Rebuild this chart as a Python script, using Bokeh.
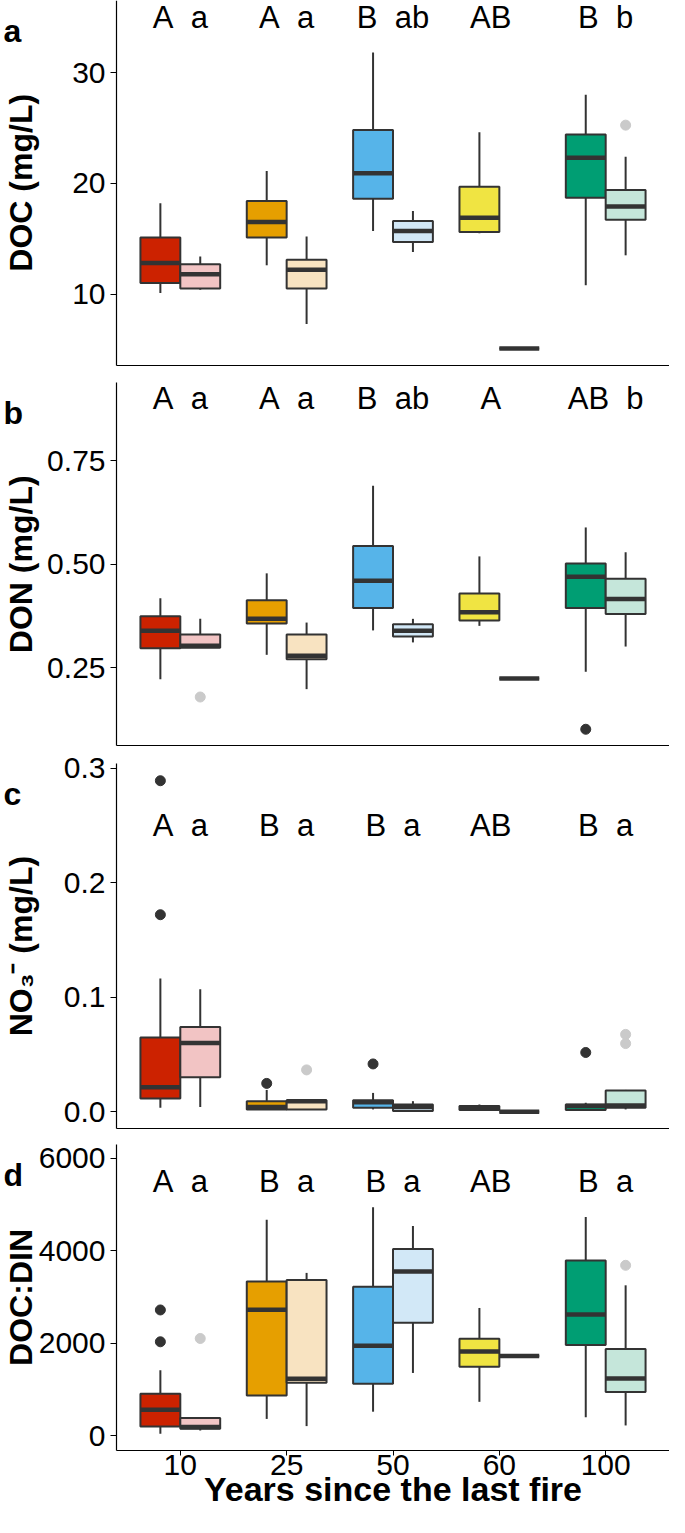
import math
from bokeh.plotting import figure
from bokeh.models import Range1d, FixedTicker, Label, ColumnDataSource, NumeralTickFormatter
from bokeh.layouts import column
from bokeh.embed import file_html
from bokeh.resources import INLINE
from bokeh.core.properties import value

# ---------------- data ----------------
years = ["10", "25", "50", "60", "100"]
dark_colors = ["#CC2200", "#E69F00", "#56B4E9", "#F0E442", "#009E73"]
light_colors = ["#F2C4C4", "#F8E3C1", "#D2E8F7", "#FAF6C6", "#C5E6DA"]

# Panel a: DOC (mg/L)
doc_dark_lower = [10.1, 12.6, 15.7, 15.5, 10.8]
doc_dark_q1 = [11.0, 15.1, 18.6, 15.6, 18.7]
doc_dark_med = [12.8, 16.5, 20.9, 16.9, 22.3]
doc_dark_q3 = [15.1, 18.4, 24.8, 19.7, 24.4]
doc_dark_upper = [18.2, 21.1, 31.8, 24.6, 28.0]
doc_light_lower = [10.4, 7.3, 13.8, 5.1, 13.5]
doc_light_q1 = [10.5, 10.5, 14.7, 5.1, 16.7]
doc_light_med = [11.8, 12.2, 15.7, 5.1, 17.9]
doc_light_q3 = [12.7, 13.1, 16.6, 5.1, 19.4]
doc_light_upper = [13.4, 15.2, 17.5, 5.1, 22.4]
doc_out_dark_year = []
doc_out_dark_val = []
doc_out_light_year = [4]
doc_out_light_val = [25.25]
doc_upper_letters = ["A", "A", "B", "AB", "B"]
doc_lower_letters = ["a", "a", "ab", "", "b"]

# Panel b: DON (mg/L)
don_dark_lower = [0.222, 0.281, 0.340, 0.351, 0.240]
don_dark_q1 = [0.297, 0.357, 0.394, 0.364, 0.394]
don_dark_med = [0.339, 0.368, 0.460, 0.384, 0.470]
don_dark_q3 = [0.374, 0.413, 0.544, 0.429, 0.502]
don_dark_upper = [0.418, 0.478, 0.690, 0.519, 0.589]
don_light_lower = [0.298, 0.198, 0.311, 0.224, 0.301]
don_light_q1 = [0.298, 0.270, 0.325, 0.224, 0.380]
don_light_med = [0.303, 0.279, 0.339, 0.224, 0.416]
don_light_q3 = [0.330, 0.330, 0.355, 0.224, 0.465]
don_light_upper = [0.368, 0.359, 0.368, 0.224, 0.529]
don_out_dark_year = [4]
don_out_dark_val = [0.101]
don_out_light_year = [0]
don_out_light_val = [0.179]
don_upper_letters = ["A", "A", "B", "A", "AB"]
don_lower_letters = ["a", "a", "ab", "", "b"]

# Panel c: NO3- (mg/L)
no3_dark_lower = [0.0034, 0.0020, 0.0020, 0.0014, 0.0006]
no3_dark_q1 = [0.0115, 0.0020, 0.0034, 0.0014, 0.0014]
no3_dark_med = [0.0213, 0.0040, 0.0083, 0.0034, 0.0049]
no3_dark_q3 = [0.0647, 0.0092, 0.0100, 0.0049, 0.0063]
no3_dark_upper = [0.1164, 0.0190, 0.0164, 0.0063, 0.0078]
no3_light_lower = [0.0040, 0.0020, 0.0006, 0.0000, 0.0020]
no3_light_q1 = [0.0300, 0.0020, 0.0006, 0.0000, 0.0034]
no3_light_med = [0.0600, 0.0092, 0.0040, 0.0000, 0.0055]
no3_light_q3 = [0.0739, 0.0100, 0.0063, 0.0000, 0.0184]
no3_light_upper = [0.1070, 0.0100, 0.0092, 0.0000, 0.0190]
no3_out_dark_year = [0, 0, 1, 2, 4]
no3_out_dark_val = [0.289, 0.172, 0.0247, 0.0417, 0.0517]
no3_out_light_year = [1, 4, 4]
no3_out_light_val = [0.0365, 0.0675, 0.0595]
no3_upper_letters = ["A", "B", "B", "AB", "B"]
no3_lower_letters = ["a", "a", "a", "", "a"]

# Panel d: DOC:DIN
ratio_dark_lower = [50, 368, 524, 737, 404]
ratio_dark_q1 = [205, 871, 1126, 1495, 1962]
ratio_dark_med = [567, 2727, 1948, 1821, 2621]
ratio_dark_q3 = [914, 3336, 3223, 2097, 3790]
ratio_dark_upper = [1417, 4668, 4937, 2763, 4725]
ratio_light_lower = [120, 213, 1360, 1728, 227]
ratio_light_q1 = [156, 1148, 2444, 1728, 949]
ratio_light_med = [191, 1233, 3549, 1728, 1240]
ratio_light_q3 = [390, 3365, 4038, 1728, 1877]
ratio_light_upper = [390, 3520, 4534, 1728, 3252]
ratio_out_dark_year = [0, 0]
ratio_out_dark_val = [2720, 2033]
ratio_out_light_year = [0, 4]
ratio_out_light_val = [2104, 3684]
ratio_upper_letters = ["A", "B", "B", "AB", "B"]
ratio_lower_letters = ["a", "a", "a", "", "a"]

# ---------------- style / layout ----------------
FONT = "Liberation Sans"
INK = "#333333"
W = 669
AXIS_PX = 116                      # canvas x of the y axis line
X0, X1 = 0.4, 5.6                  # category axis extent (categories at 1..5)
PPU = (W - AXIS_PX) / (X1 - X0)    # pixels per category unit
XL = X0 - AXIS_PX / PPU            # left end of the full-canvas x range
OFF = 0.1875
BW = 0.375
NB = "\u00a0"


def make_panel(stats_dark, stats_light, out_dark, out_light, upper, lower,
               yr, yticks, yfmt, letter_y, ytitle, tag, height, pad_top, pad_bot,
               show_x=False):
    ys, ye = yr
    panel_h = height - pad_top - pad_bot
    ppy = panel_h / (ye - ys)
    y_lo = ys - pad_bot / ppy
    y_hi = ye + pad_top / ppy

    p = figure(width=W, height=height, x_range=Range1d(XL, X1), y_range=Range1d(y_lo, y_hi),
               output_backend="svg", toolbar_location=None, title=None,
               min_border_left=0, min_border_right=0, min_border_top=0, min_border_bottom=0)
    p.grid.visible = False
    p.outline_line_color = None
    p.background_fill_color = "white"
    p.border_fill_color = "white"

    # y axis, drawn at the left end of the category axis
    ya = p.yaxis[0]
    ya.fixed_location = X0
    ya.bounds = (ys, ye)
    ya.ticker = FixedTicker(ticks=yticks)
    ya.formatter = NumeralTickFormatter(format=yfmt)
    ya.major_label_text_font = FONT
    ya.major_label_text_font_size = "30px"
    ya.major_label_text_color = "black"
    ya.major_tick_out = 6
    ya.major_tick_in = 0
    ya.minor_tick_out = 0
    ya.minor_tick_in = 0
    ya.major_label_standoff = 5
    ya.axis_line_color = "black"
    ya.axis_line_width = 1.2
    ya.major_tick_line_color = "black"

    # x axis, drawn at the bottom of the panel
    xa = p.xaxis[0]
    xa.fixed_location = ys
    xa.bounds = (X0, X1)
    xa.axis_line_color = "black"
    xa.axis_line_width = 1.2
    xa.minor_tick_out = 0
    xa.minor_tick_in = 0
    xa.major_tick_in = 0
    if show_x:
        xa.ticker = FixedTicker(ticks=[1, 2, 3, 4, 5])
        xa.major_label_overrides = {i + 1: years[i] for i in range(5)}
        xa.major_label_text_font = FONT
        xa.major_label_text_font_size = "30px"
        xa.major_label_text_color = "black"
        xa.major_tick_out = 5
        xa.major_label_standoff = 0
        xa.major_tick_line_color = "black"
        xa.axis_label = "Years since the last fire"
        xa.axis_label_text_font = FONT
        xa.axis_label_text_font_style = "bold"
        xa.axis_label_text_font_size = "34px"
        xa.axis_label_text_color = "black"
        xa.axis_label_standoff = -9
    else:
        xa.ticker = FixedTicker(ticks=[])
        xa.major_tick_out = 0
        xa.major_label_standoff = 0

    for stats, off, colors in ((stats_dark, -OFF, dark_colors), (stats_light, OFF, light_colors)):
        lo, q1, md, q3, hi = stats
        xs = [i + 1 + off for i in range(5)]
        src = ColumnDataSource(dict(x=xs, lo=lo, q1=q1, md=md, q3=q3, hi=hi,
                                    xl=[x - BW / 2 for x in xs], xr=[x + BW / 2 for x in xs],
                                    color=colors))
        p.segment(x0="x", x1="x", y0="q3", y1="hi", source=src, line_color=INK, line_width=2)
        p.segment(x0="x", x1="x", y0="lo", y1="q1", source=src, line_color=INK, line_width=2)
        p.vbar(x="x", width=BW, bottom="q1", top="q3", source=src, fill_color="color",
               line_color=INK, line_width=2)
        p.segment(x0="xl", x1="xr", y0="md", y1="md", source=src, line_color=INK,
                  line_width=4.5, line_cap="butt")

    (dy, dv), (ly, lv) = out_dark, out_light
    if dy:
        p.scatter(x=[i + 1 - OFF for i in dy], y=dv, size=10, fill_color=INK,
                  line_color=INK, marker="circle")
    if ly:
        p.scatter(x=[i + 1 + OFF for i in ly], y=lv, size=10, fill_color="#CACACA",
                  line_color="#CACACA", marker="circle")

    texts = [u + NB + NB + l if l else u + NB + NB for u, l in zip(upper, lower)]
    tsrc = ColumnDataSource(dict(x=[i + 1 for i in range(5)], y=[letter_y] * 5, t=texts))
    p.text(x="x", y="y", text="t", source=tsrc, text_font=value(FONT),
           text_font_size="31px", text_align="center", text_baseline="middle",
           text_color="black")

    # y-axis title
    p.add_layout(Label(x=X0 - 96 / PPU, y=(ys + ye) / 2, text=ytitle,
                       angle=math.pi / 2, text_align="center", text_baseline="middle",
                       text_font=FONT, text_font_style="bold", text_font_size="32px",
                       text_color="black"))
    # panel tag
    p.add_layout(Label(x=X0 - 113 / PPU, y=ye - 30 / ppy, text=tag,
                       text_align="left", text_baseline="alphabetic",
                       text_font=FONT, text_font_style="bold", text_font_size="32px",
                       text_color="black"))
    return p


pa = make_panel((doc_dark_lower, doc_dark_q1, doc_dark_med, doc_dark_q3, doc_dark_upper),
                (doc_light_lower, doc_light_q1, doc_light_med, doc_light_q3, doc_light_upper),
                (doc_out_dark_year, doc_out_dark_val), (doc_out_light_year, doc_out_light_val),
                doc_upper_letters, doc_lower_letters,
                (3.6, 36.5), [10, 20, 30], "0", 35, "DOC (mg/L)", "a", 373, 0, 8.5)

pb = make_panel((don_dark_lower, don_dark_q1, don_dark_med, don_dark_q3, don_dark_upper),
                (don_light_lower, don_light_q1, don_light_med, don_light_q3, don_light_upper),
                (don_out_dark_year, don_out_dark_val), (don_out_light_year, don_out_light_val),
                don_upper_letters, don_lower_letters,
                (0.061, 0.939), [0.25, 0.5, 0.75], "0.00", 0.9, "DON (mg/L)", "b", 375, 9.2, 2.7)

pc = make_panel((no3_dark_lower, no3_dark_q1, no3_dark_med, no3_dark_q3, no3_dark_upper),
                (no3_light_lower, no3_light_q1, no3_light_med, no3_light_q3, no3_light_upper),
                (no3_out_dark_year, no3_out_dark_val), (no3_out_light_year, no3_out_light_val),
                no3_upper_letters, no3_lower_letters,
                (-0.0145, 0.3037), [0.0, 0.1, 0.2, 0.3], "0.0", 0.25,
                "NO\u2083\u207b (mg/L)", "c", 388, 15.4, 8.2)

pd_ = make_panel((ratio_dark_lower, ratio_dark_q1, ratio_dark_med, ratio_dark_q3, ratio_dark_upper),
                 (ratio_light_lower, ratio_light_q1, ratio_light_med, ratio_light_q3, ratio_light_upper),
                 (ratio_out_dark_year, ratio_out_dark_val), (ratio_out_light_year, ratio_out_light_val),
                 ratio_upper_letters, ratio_lower_letters,
                 (-305, 6285), [0, 2000, 4000, 6000], "0", 5500, "DOC:DIN", "d", 381, 8.3, 67.4,
                 show_x=True)

layout = column(pa, pb, pc, pd_, spacing=0)
open("out.html", "w").write(file_html(layout, INLINE))
